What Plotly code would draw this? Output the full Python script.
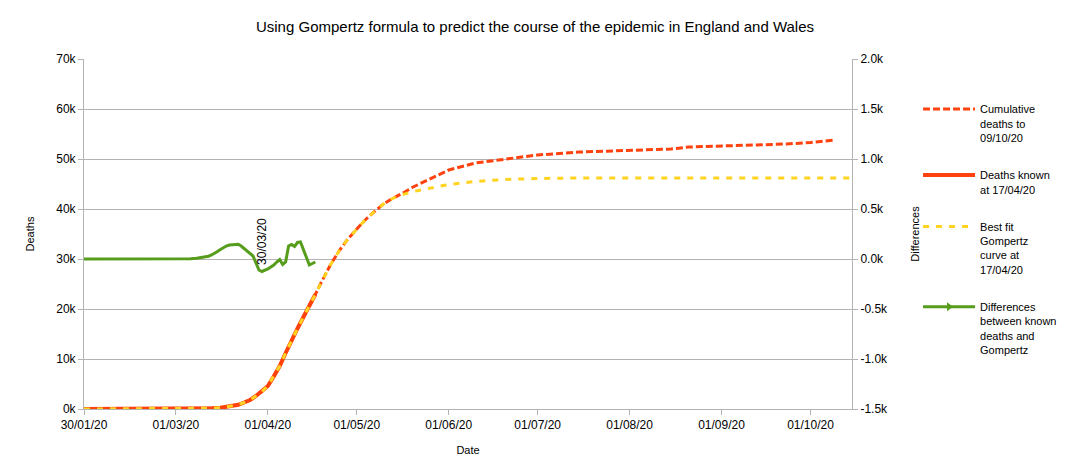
import plotly.graph_objects as go

# ---- data ----
rise_dates = ["2020-01-30", "2020-03-01", "2020-03-10", "2020-03-13", "2020-03-16", "2020-03-18",
              "2020-03-20", "2020-03-22", "2020-03-24", "2020-03-26", "2020-03-28", "2020-03-30",
              "2020-04-01", "2020-04-03", "2020-04-05", "2020-04-07", "2020-04-09", "2020-04-11",
              "2020-04-13", "2020-04-15", "2020-04-17"]
rise_deaths = [0, 0, 100, 150, 250, 400,
               550, 850, 1300, 1800, 2600, 3500,
               4600, 6500, 8600, 11200, 13800, 16100,
               18400, 20500, 22900]

cum_dates = rise_dates + ["2020-04-19", "2020-04-22", "2020-04-25", "2020-04-28", "2020-05-01",
                          "2020-05-04", "2020-05-07", "2020-05-10", "2020-05-13", "2020-05-16",
                          "2020-05-20", "2020-05-25", "2020-06-01", "2020-06-10", "2020-06-20",
                          "2020-07-01", "2020-07-15", "2020-08-01", "2020-08-15", "2020-08-21",
                          "2020-09-01", "2020-09-12", "2020-09-23", "2020-10-01", "2020-10-09"]
cum_deaths = rise_deaths + [25300, 28700, 31600, 34000, 36000,
                            37900, 39500, 41000, 42100, 43000,
                            44400, 45800, 47800, 49200, 49900,
                            50800, 51400, 51800, 52000, 52400,
                            52600, 52700, 53000, 53300, 53800]

known_dates = rise_dates
known_deaths = rise_deaths

gomp_dates = rise_dates + ["2020-04-19", "2020-04-22", "2020-04-25", "2020-04-28", "2020-05-01",
                           "2020-05-04", "2020-05-07", "2020-05-10", "2020-05-13", "2020-05-16",
                           "2020-05-20", "2020-05-25", "2020-06-01", "2020-06-10", "2020-06-20",
                           "2020-07-01", "2020-07-15", "2020-08-15", "2020-10-15"]
gomp_deaths = rise_deaths + [25300, 28700, 31600, 34000, 36000,
                             37900, 39500, 41000, 42100, 42800,
                             43500, 44100, 44900, 45500, 45900,
                             46100, 46200, 46200, 46200]

diff_dates = ["2020-01-30", "2020-03-04", "2020-03-06", "2020-03-08", "2020-03-10", "2020-03-12",
              "2020-03-13", "2020-03-14", "2020-03-15", "2020-03-16", "2020-03-17", "2020-03-18",
              "2020-03-19", "2020-03-20", "2020-03-21", "2020-03-22", "2020-03-23", "2020-03-24",
              "2020-03-25", "2020-03-26", "2020-03-27", "2020-03-28", "2020-03-29", "2020-03-30",
              "2020-03-31", "2020-04-01", "2020-04-02", "2020-04-03", "2020-04-04", "2020-04-05",
              "2020-04-06", "2020-04-07", "2020-04-08", "2020-04-09", "2020-04-10", "2020-04-11",
              "2020-04-12", "2020-04-13", "2020-04-14", "2020-04-15", "2020-04-16", "2020-04-17"]
diff_values = [0, 0, 3, 8, 15, 28,
               40, 55, 75, 95, 115, 130,
               140, 145, 150, 148, 130, 105,
               80, 55, 30, -40, -110, -125,
               -115, -100, -80, -60, -30, -5,
               -55, -30, 130, 145, 125, 165,
               170, 90, 20, -60, -45, -30]

x_tickvals = ["2020-01-30", "2020-03-01", "2020-04-01", "2020-05-01", "2020-06-01",
              "2020-07-01", "2020-08-01", "2020-09-01", "2020-10-01"]
x_ticktext = ["30/01/20", "01/03/20", "01/04/20", "01/05/20", "01/06/20",
              "01/07/20", "01/08/20", "01/09/20", "01/10/20"]
y_tickvals = [0, 10000, 20000, 30000, 40000, 50000, 60000, 70000]
y_ticktext = ["0k", "10k", "20k", "30k", "40k", "50k", "60k", "70k"]
y2_tickvals = [-1500, -1000, -500, 0, 500, 1000, 1500, 2000]
y2_ticktext = ["-1.5k", "-1.0k", "-0.5k", "0.0k", "0.5k", "1.0k", "1.5k", "2.0k"]

RED = "#ff420e"
YEL = "#ffd320"
GRN = "#579d1c"
FONT = "Liberation Sans"

fig = go.Figure()

fig.add_trace(go.Scatter(x=known_dates, y=known_deaths, mode="lines", name="Deaths known<br>at 17/04/20",
                         line=dict(color=RED, width=4), legendrank=2, legendgroup="b"))
fig.add_trace(go.Scatter(x=cum_dates, y=cum_deaths, mode="lines", name="Cumulative<br>deaths to<br>09/10/20",
                         line=dict(color=RED, width=3, dash="7px,3px"), legendrank=1, legendgroup="a"))
fig.add_trace(go.Scatter(x=gomp_dates, y=gomp_deaths, mode="lines", name="Best fit<br>Gompertz<br>curve at<br>17/04/20",
                         line=dict(color=YEL, width=3, dash="6px,7px"), legendrank=3, legendgroup="c"))
fig.add_trace(go.Scatter(x=diff_dates, y=diff_values, mode="lines", yaxis="y2", showlegend=False,
                         line=dict(color=GRN, width=3), legendgroup="d"))
fig.add_trace(go.Scatter(x=[None], y=[None], mode="lines+markers", yaxis="y2",
                         name="Differences<br>between known<br>deaths and<br>Gompertz",
                         line=dict(color=GRN, width=3),
                         marker=dict(symbol="triangle-right", size=8, color=GRN),
                         legendrank=4, legendgroup="d"))

fig.add_annotation(x="2020-03-30", y=180, yref="y2", text="30/03/20", textangle=-90,
                   showarrow=False, font=dict(family=FONT, size=12, color="#000000"),
                   xanchor="center", yanchor="middle")

fig.update_layout(
    width=1061, height=460,
    margin=dict(l=76, r=217, t=51, b=59, autoexpand=False),
    paper_bgcolor="white", plot_bgcolor="white",
    font=dict(family=FONT, size=12, color="#000000"),
    title=dict(text="Using Gompertz formula to predict the course of the epidemic in England and Wales",
               x=0.4967, xref="container", xanchor="center", y=0.9587, yref="container", yanchor="middle",
               font=dict(family=FONT, size=15, color="#000000")),
    xaxis=dict(type="date", range=["2020-01-30", "2020-10-15"], tickvals=x_tickvals, ticktext=x_ticktext,
               showgrid=False, showline=True, linecolor="#b3b3b3", linewidth=1,
               ticks="outside", ticklen=5, tickcolor="#b3b3b3", automargin=False,
               title=dict(text="Date", font=dict(size=11), standoff=14), zeroline=False),
    yaxis=dict(range=[0, 70000], tickvals=y_tickvals, ticktext=y_ticktext,
               showgrid=True, gridcolor="#b3b3b3", gridwidth=1, automargin=False,
               showline=True, linecolor="#b3b3b3", ticks="outside", ticklen=5, tickcolor="#b3b3b3",
               title=dict(text="Deaths", font=dict(size=11), standoff=19), zeroline=False),
    yaxis2=dict(range=[-1500, 2000], tickvals=y2_tickvals, ticktext=y2_ticktext, overlaying="y", side="right",
                showgrid=False, showline=True, linecolor="#b3b3b3", ticks="outside", ticklen=5, tickcolor="#b3b3b3",
                automargin=False,
                title=dict(text="Differences", font=dict(size=11), standoff=24), zeroline=False),
    legend=dict(x=1.086, xanchor="left", y=0.896, yanchor="top", valign="top",
                font=dict(family=FONT, size=11, color="#000000"),
                tracegroupgap=20, traceorder="grouped", itemwidth=52,
                bgcolor="rgba(0,0,0,0)"),
    showlegend=True,
)

fig.write_html("out.html")
